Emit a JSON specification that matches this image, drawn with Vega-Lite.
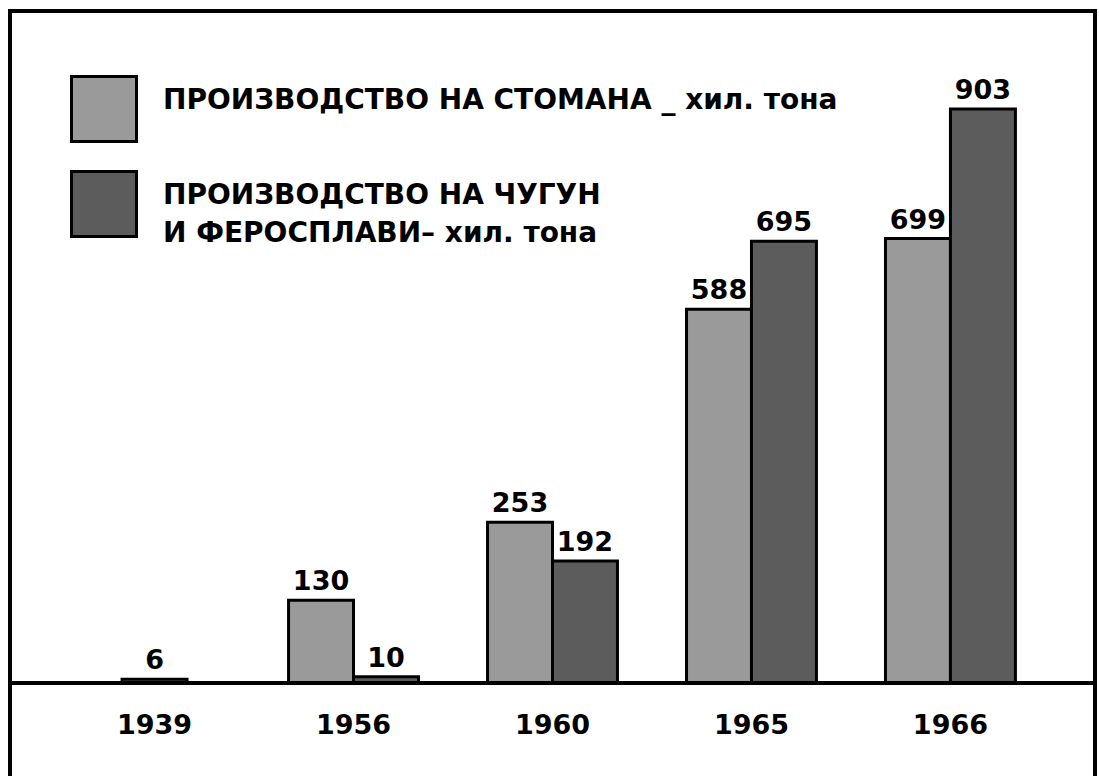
{
  "$schema": "https://vega.github.io/schema/vega-lite/v6.json",
  "width": 1085,
  "height": 775,
  "autosize": {"type": "none"},
  "padding": {"left": 10, "top": 11, "right": 4, "bottom": -10},
  "background": "white",
  "data": {
    "values": [
      {"year": "1939", "type": "steel", "value": 6},
      {"year": "1956", "type": "steel", "value": 130},
      {"year": "1956", "type": "pig", "value": 10},
      {"year": "1960", "type": "steel", "value": 253},
      {"year": "1960", "type": "pig", "value": 192},
      {"year": "1965", "type": "steel", "value": 588},
      {"year": "1965", "type": "pig", "value": 695},
      {"year": "1966", "type": "steel", "value": 699},
      {"year": "1966", "type": "pig", "value": 903}
    ]
  },
  "layer": [
    {
      "transform": [{"filter": "datum.year != '1939'"}],
      "mark": {"type": "bar", "stroke": "black", "strokeWidth": 3},
      "encoding": {
        "x": {"field": "year", "type": "nominal", "title": null,
              "scale": {"domain": ["1939", "1956", "1960", "1965", "1966"], "paddingInner": 0.347, "paddingOuter": 0.4}},
        "xOffset": {"field": "type", "type": "nominal", "scale": {"domain": ["steel", "pig"], "paddingInner": 0, "paddingOuter": 0}},
        "y": {"field": "value", "type": "quantitative", "axis": null,
              "scale": {"domain": [-162, 1057], "nice": false, "zero": false}},
        "y2": {"datum": 0},
        "fill": {"field": "type", "type": "nominal",
                 "scale": {"domain": ["steel", "pig"], "range": ["#9a9a9a", "#5c5c5c"]},
                 "legend": {
                   "title": null, "orient": "none", "legendX": 60, "legendY": 64,
                   "symbolType": "square", "symbolSize": 4225,
                   "symbolStrokeColor": "black", "symbolStrokeWidth": 3,
                   "labelFont": "DejaVu Sans", "labelFontWeight": "bold", "labelFontSize": 28,
                   "labelColor": "black", "labelLimit": 1000, "labelOffset": 25,
                   "rowPadding": 17, "padding": 0,
                   "labelExpr": "datum.label == 'steel' ? 'ПРОИЗВОДСТВО НА СТОМАНА _ хил. тона' : ['ПРОИЗВОДСТВО НА ЧУГУН', 'И ФЕРОСПЛАВИ– хил. тона']"
                 }}
      }
    },
    {
      "transform": [{"filter": "datum.year == '1939'"}],
      "mark": {"type": "bar", "stroke": "black", "strokeWidth": 3, "width": {"band": 0.5}},
      "encoding": {
        "x": {"field": "year", "type": "nominal", "title": null},
        "y": {"field": "value", "type": "quantitative", "axis": null},
        "y2": {"datum": 0},
        "fill": {"field": "type", "type": "nominal"}
      }
    },
    {
      "transform": [{"filter": "datum.year != '1939'"}],
      "mark": {"type": "text", "font": "DejaVu Sans", "fontWeight": "bold", "fontSize": 27, "baseline": "alphabetic", "dy": -10, "color": "black"},
      "encoding": {
        "x": {"field": "year", "type": "nominal", "title": null},
        "xOffset": {"field": "type", "type": "nominal"},
        "y": {"field": "value", "type": "quantitative", "axis": null},
        "text": {"field": "value", "type": "quantitative"}
      }
    },
    {
      "transform": [{"filter": "datum.year == '1939'"}],
      "mark": {"type": "text", "font": "DejaVu Sans", "fontWeight": "bold", "fontSize": 27, "baseline": "alphabetic", "dy": -10, "color": "black"},
      "encoding": {
        "x": {"field": "year", "type": "nominal", "title": null},
        "y": {"field": "value", "type": "quantitative", "axis": null},
        "text": {"field": "value", "type": "quantitative"}
      }
    },
    {
      "mark": {"type": "rule", "strokeWidth": 3, "color": "black"},
      "encoding": {"y": {"datum": 0}}
    }
  ],
  "config": {
    "view": {"stroke": "black", "strokeWidth": 4},
    "style": {"guide-label": {"lineHeight": 38, "dy": -8}},
    "axisX": {
      "domain": false, "ticks": false, "grid": false, "labelAngle": 0,
      "labelFont": "DejaVu Sans", "labelFontWeight": "bold", "labelFontSize": 27,
      "labelColor": "black", "labelPadding": 0, "labelBaseline": "middle", "offset": -53
    }
  }
}
